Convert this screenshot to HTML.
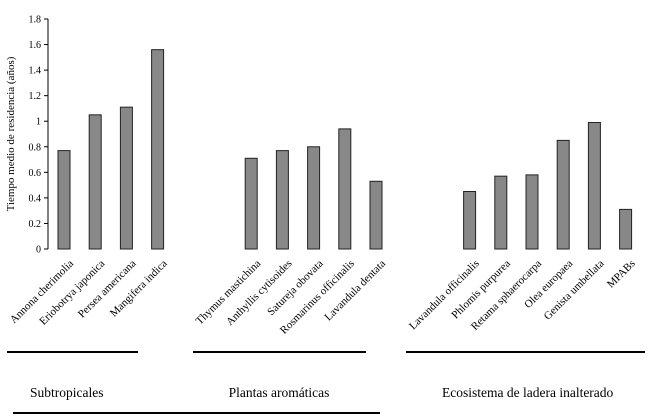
<!DOCTYPE html>
<html><head><meta charset="utf-8"><style>
body{margin:0;background:#fff}
svg{display:block;font-family:"Liberation Serif",serif}
</style></head><body>
<svg id="chart" width="655" height="416" viewBox="0 0 655 416"></svg>
<script>
const categories=["Annona cherimolia","Eriobotrya japonica","Persea americana","Mangifera indica","","","Thymus mastichina","Anthyllis cytisoides","Satureja obovata","Rosmarinus officinalis","Lavandula dentata","","","Lavandula officinalis","Phlomis purpurea","Retama sphaerocarpa","Olea europaea","Genista umbellata","MPABs"];
const values=[0.77,1.05,1.11,1.56,null,null,0.71,0.77,0.80,0.94,0.53,null,null,0.45,0.57,0.58,0.85,0.99,0.31];
const yTicks=[0,0.2,0.4,0.6,0.8,1,1.2,1.4,1.6,1.8];
const yTickLabels=["0","0.2","0.4","0.6","0.8","1","1.2","1.4","1.6","1.8"];
const groups=["Subtropicales","Plantas aromáticas","Ecosistema de ladera inalterado"];

const svg=document.getElementById('chart');
const NS="http://www.w3.org/2000/svg";
const y=v=>249-v*(230/1.8);
const x=i=>64+i*31.2;
function mk(t,a,txt){const e=document.createElementNS(NS,t);for(const k in a)e.setAttribute(k,a[k]);if(txt!==undefined)e.textContent=txt;svg.appendChild(e);return e;}

let ax=mk('line',{x1:48,y1:19,x2:48,y2:249,stroke:'#000','stroke-width':1});


yTicks.forEach((v,i)=>{
  let t=mk('line',{x1:44,y1:y(v),x2:48,y2:y(v),stroke:'#000'});
  
  
  let l=mk('text',{x:41,y:y(v)+3.5,'font-size':10,'text-anchor':'end'},yTickLabels[i]);
  
  
});
let yt=mk('text',{x:0,y:0,'font-size':11,'text-anchor':'middle',transform:'translate(14,134) rotate(-90)'},'Tiempo medio de residencia (años)');



values.forEach((v,i)=>{
  if(v===null)return;
  let b=mk('rect',{x:x(i)-6,y:y(v),width:12,height:249-y(v),fill:'#888',stroke:'#222','stroke-width':1});
  
  
  let l=mk('text',{x:0,y:0,'font-size':11,'text-anchor':'end',transform:`translate(${x(i)+10},264) rotate(-45)`},categories[i]);
  
  
});

[[7,138],[193,366],[406,645]].forEach(s=>{
  let g=mk('line',{x1:s[0],y1:352,x2:s[1],y2:352,stroke:'#000','stroke-width':2});
  
  
});
let bl=mk('line',{x1:13,y1:413,x2:380,y2:413,stroke:'#000','stroke-width':2});


[[30,'start'],[279,'middle'],[442,'start']].forEach((p,i)=>{
  let t=mk('text',{x:p[0],y:397,'font-size':13.5,'text-anchor':p[1]},groups[i]);
  
  
});
</script>
</body></html>
